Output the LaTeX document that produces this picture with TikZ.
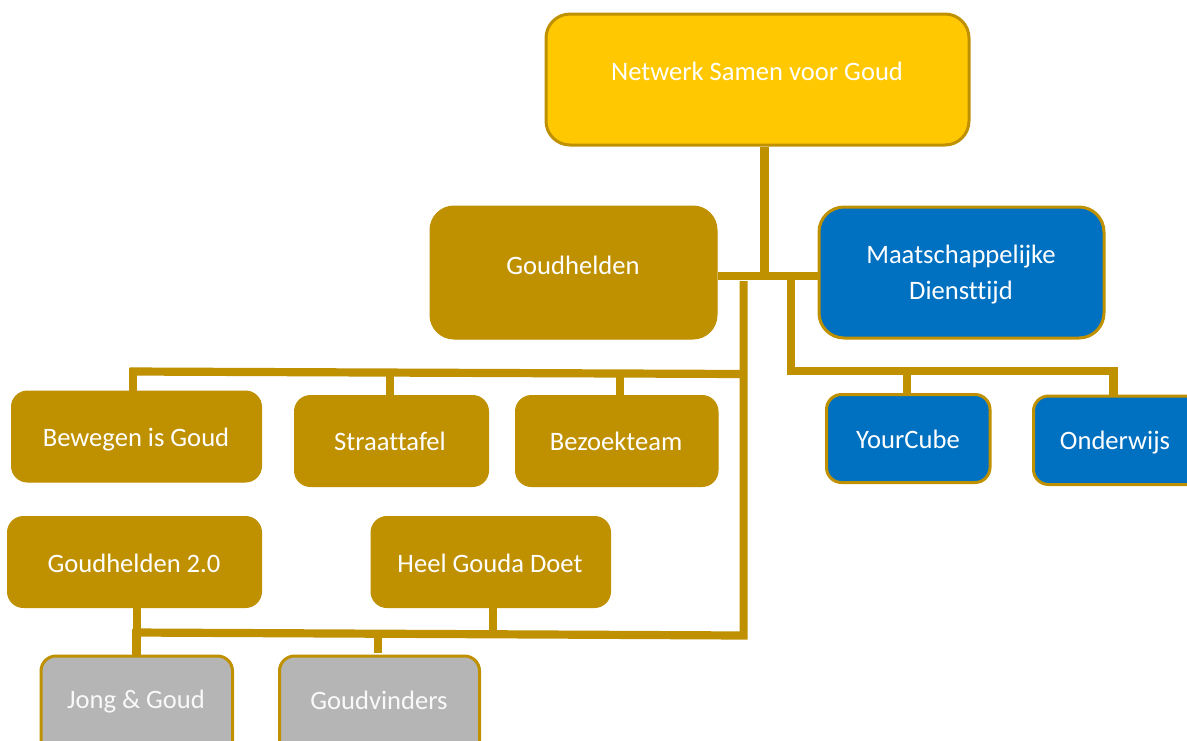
\documentclass[tikz,border=0pt]{standalone}
\usepackage{fontspec}
\setmainfont[RawFeature={-liga;-clig;-dlig}]{Carlito}
\definecolor{gold}{HTML}{BF9000}
\definecolor{yel}{HTML}{FFC800}
\definecolor{blu}{HTML}{0070C0}
\definecolor{gry}{HTML}{B5B5B5}
\begin{document}
\begin{tikzpicture}[x=1pt,y=-1pt,
 gb/.style={rectangle,rounded corners=16pt,inner sep=0pt,fill=gold,draw=gold,line width=1pt},
 ggb/.style={gb,rounded corners=24pt},
 yb/.style={gb,rounded corners=24pt,fill=yel,line width=3pt},
 bb/.style={gb,rounded corners=15pt,fill=blu,line width=3pt},
 bbb/.style={bb,rounded corners=25pt},
 sb/.style={gb,rounded corners=15pt,fill=gry,line width=3pt},
 txt/.style={text=white,font=\fontsize{26.6}{36.6}\selectfont,align=center,inner sep=0pt,anchor=base},
 lnk/.style={draw=gold,line width=8.2pt}]
\useasboundingbox (0,0) rectangle (1187,740);
\newcommand{\bx}[6]{\node[#1,minimum width=#4-#2,minimum height=#5-#3] (#6) at ({(#2+#4)/2},{(#3+#5)/2}) {}}
\bx{yb}{546}{14}{969}{145}{top};
\bx{ggb}{430}{206}{717}{339}{gh};
\bx{bbb}{819}{207}{1104}{338}{md};
\bx{gb}{11.5}{391}{261.5}{482}{bg};
\bx{gb}{294.5}{395.5}{488.5}{486.5}{st};
\bx{gb}{515.5}{395.5}{718}{486.5}{bz};
\bx{bb}{826.5}{394.5}{990}{482.5}{yc};
\bx{bb}{1033.5}{396}{1210}{484.5}{on};
\bx{gb}{7.5}{516.5}{261.5}{607.5}{gt};
\bx{gb}{371}{516.5}{610.5}{607.5}{hg};
\bx{sb}{41}{656}{232.5}{770}{jg};
\bx{sb}{279.5}{656}{479.5}{770}{gv};
\node[txt] (ttop) at (757,80) {Netwerk Samen voor Goud};
\node[txt] (tgh) at (573,274) {Goudhelden};
\node[txt] (tmd1) at (961,263) {Maatschappelijke};
\node[txt] (tmd2) at (961,299.5) {Diensttijd};
\node[txt] (tbg) at (136,446) {Bewegen is Goud};
\node[txt] (tst) at (390,450) {Straattafel};
\node[txt] (tbz) at (616,450) {Bezoekteam};
\node[txt] (tyc) at (908,448) {YourCube};
\node[txt] (ton) at (1115,449.5) {Onderwijs};
\node[txt] (tgt) at (134,572) {Goudhelden 2.0};
\node[txt] (thg) at (490,572) {Heel Gouda Doet};
\node[txt,text=white!92!gry] (tjg) at (136,708.5) {Jong \& Goud};
\node[txt,text=white!92!gry] (tgv) at (379,709.5) {Goudvinders};
\coordinate (hub) at (764.5,276);
\coordinate (trunkt) at (743.6,281);
\coordinate (trunku) at (743.6,374);
\coordinate (trunkb) at (743.6,635.5);
\coordinate (ul) at (129.5,371.5);
\coordinate (ll) at (133,632.5);
\path[lnk] (top.south -| hub) -- (hub);
\path[lnk] (gh.east |- hub) -- (md.west |- hub);
\path[lnk] (trunkt) -- (trunkb) -- (ll);
\path[lnk] (trunku) -- (ul);
\path[lnk] (791,280) -- (791,375);
\path[lnk] (787,370.7) -- (1117.5,370.7);
\path[lnk] (133,367.6) -- (bg.north -| 133,0);
\path[lnk] (390,372.5) -- (st.north -| 390,0);
\path[lnk] (620,373.5) -- (bz.north -| 620,0);
\path[lnk] (907,371) -- (yc.north -| 907,0);
\path[lnk] (1113.5,371) -- (on.north -| 1113.5,0);
\path[lnk] (137,607.5) -- (137,630);
\path[lnk] (136.5,629) -- (jg.north -| 136.5,0);
\path[lnk] (493,607.5) -- (493,630);
\path[lnk] (378,633) -- (378,653);
\end{tikzpicture}
\end{document}
